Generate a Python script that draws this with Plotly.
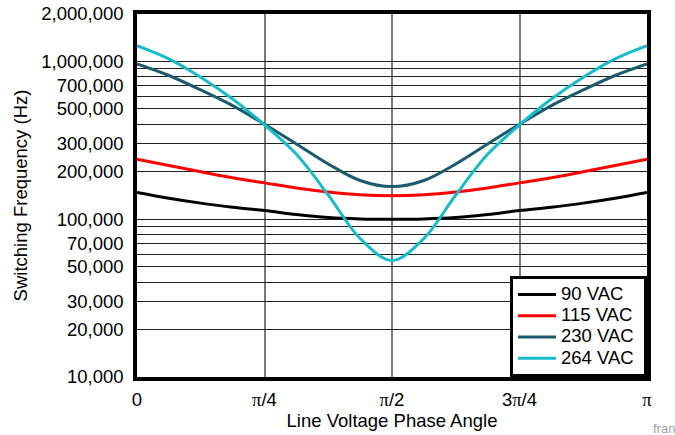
import math
import plotly.graph_objects as go

# Phase angle samples (0 .. pi in pi/16 steps)
phase = [i * math.pi / 16 for i in range(17)]

half_90 = [148000, 136000, 126500, 119000, 113500, 107000, 102500, 100500, 100000]
half_115 = [240000, 219000, 200000, 183000, 170000, 158000, 149000, 143000, 141000]
half_230 = [965000, 815000, 660000, 525000, 400000, 300000, 224000, 176000, 161000]
half_264 = [1262000, 1040000, 795000, 578000, 396000, 258000, 142500, 75500, 54800]

f_90 = half_90 + half_90[-2::-1]
f_115 = half_115 + half_115[-2::-1]
f_230 = half_230 + half_230[-2::-1]
f_264 = half_264 + half_264[-2::-1]

series_names = ["90 VAC", "115 VAC", "230 VAC", "264 VAC"]
series_values = [f_90, f_115, f_230, f_264]
series_colors = ["#000000", "#ff0000", "#1c5b6d", "#17bccb"]

x_tickvals = [0, math.pi / 4, math.pi / 2, 3 * math.pi / 4, math.pi]
x_ticktext = ["0", "π/4", "π/2", "3π/4", "π"]

y_tickvals = [10000, 20000, 30000, 40000, 50000, 60000, 70000, 80000, 90000,
              100000, 200000, 300000, 400000, 500000, 600000, 700000, 800000, 900000,
              1000000, 2000000]
y_ticktext = ["10,000", "20,000", "30,000", "", "50,000", "", "70,000", "", "",
              "100,000", "200,000", "300,000", "", "500,000", "", "700,000", "", "",
              "1,000,000", "2,000,000"]

PI_FONT = "Liberation Serif"
x_ticktext_html = [t.replace("π", f'<span style="font-family:{PI_FONT}">π</span>') for t in x_ticktext]

FONT = "Liberation Sans, Arial, Helvetica, sans-serif"
FS = 18.5

fig = go.Figure()
for name, vals, col in zip(series_names, series_values, series_colors):
    fig.add_trace(go.Scatter(
        x=phase, y=vals, mode="lines",
        name=f'<span style="font-size:{FS}px">{name}\u00a0</span>',
        line=dict(color=col, width=3, shape="spline", smoothing=1.0)))

fig.update_layout(
    template="none",
    width=675, height=435,
    margin=dict(l=137, r=28, t=14, b=58, autoexpand=False),
    paper_bgcolor="white", plot_bgcolor="white",
    font=dict(family=FONT, size=FS, color="black"),
    showlegend=True,
    legend=dict(x=1, y=0, xanchor="right", yanchor="bottom",
                bgcolor="white", bordercolor="black", borderwidth=3,
                font=dict(size=14), tracegroupgap=0, itemwidth=38),
)
fig.update_xaxes(
    automargin=False,
    range=[0, math.pi], tickvals=x_tickvals, ticktext=x_ticktext_html,
    showgrid=True, gridcolor="#7a7a7a", gridwidth=1.5,
    showline=True, linecolor="black", linewidth=3.5, mirror=True,
    ticks="outside", ticklen=3, tickcolor="rgba(0,0,0,0)",
    zeroline=False,
    title=dict(text="Line Voltage Phase Angle", standoff=4, font=dict(size=FS)),
)
fig.update_yaxes(
    automargin=False,
    type="log", range=[4, math.log10(2000000)],
    tickvals=y_tickvals, ticktext=y_ticktext,
    showgrid=True, gridcolor="#222222", gridwidth=1,
    showline=True, linecolor="black", linewidth=3.5, mirror=True,
    ticks="outside", ticklen=6, tickcolor="rgba(0,0,0,0)",
    zeroline=False,
    title=dict(text="Switching Frequency (Hz)", standoff=10, font=dict(size=FS)),
)
fig.add_annotation(text="fran", xref="paper", yref="paper",
                   x=(651 - 137) / 510, y=-(428 - 377) / 363,
                   xanchor="left", yanchor="middle", showarrow=False,
                   font=dict(size=13, color="#a0a0a0"))

fig.write_html("out.html",
               config={"displayModeBar": False},
               post_script="document.body.style.margin='0px';document.body.style.overflow='hidden';")
